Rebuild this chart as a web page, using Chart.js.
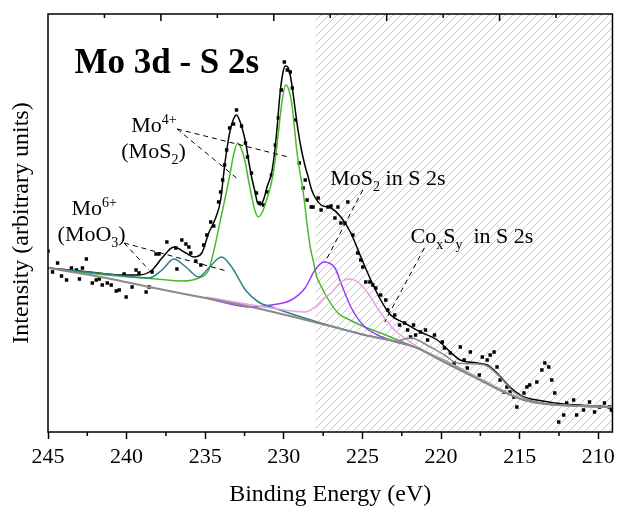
<!DOCTYPE html>
<html><head><meta charset="utf-8">
<script src="https://cdn.jsdelivr.net/npm/chart.js@4.4.1/dist/chart.umd.min.js"></script>
<style>html,body{margin:0;padding:0;background:#fff;}#wrap{width:620px;height:507px;}</style>
</head><body><div id="wrap"><canvas id="c" width="620" height="507"></canvas></div>
<script>
const FONT = "'Liberation Serif','Times New Roman',serif";
// axis
const xMajorTicks = [245,240,235,230,225,220,215,210];
const xMinorTicks = [242.5,237.5,232.5,227.5,222.5,217.5,212.5];
const topTicks = [1,2,3,4,5,6,7,8,9];
const hatchFrom = 228;
// measured points [binding energy, intensity]
const measured = [[245.0,181],[244.71,160],[244.39,169],[244.14,156],[243.82,152],[243.51,164],[243.19,162],[243.0,153],[242.81,164],[242.56,173],[242.18,149],[241.93,152],[241.74,153],[241.55,147],[241.23,149],[240.98,147],[240.66,141],[240.47,142],[240.16,158],[240.03,135],[239.65,145],[239.40,162],[239.21,159],[238.76,140],[238.57,145],[238.38,160],[238.13,178],[237.94,178],[237.44,190],[236.87,184],[236.80,163],[236.49,192],[236.23,188],[236.04,185],[235.92,179],[235.60,171],[235.28,167],[235.10,187],[234.90,197],[234.65,210],[234.46,206],[234.15,230],[234.02,240],[233.89,252],[233.77,267],[233.64,282],[233.45,304],[233.20,308],[233.01,322],[232.69,306],[232.44,289],[232.31,275],[232.06,259],[231.74,239],[231.55,229],[231.30,227],[231.05,240],[230.79,257],[230.54,287],[230.35,314],[230.16,342],[229.97,370],[229.78,362],[229.59,360],[229.46,344],[229.27,312],[229.02,269],[228.77,244],[228.64,252],[228.52,232],[228.26,225],[228.14,225],[227.82,234],[227.63,222],[227.19,225],[227.00,226],[226.75,214],[226.56,225],[226.37,209],[226.12,209],[225.93,230],[225.61,197],[225.30,179],[225.11,172],[224.98,165],[224.79,150],[224.53,150],[224.34,147],[224.15,144],[223.84,137],[223.52,132],[223.39,122],[222.95,117],[222.64,107],[222.32,109],[222.13,102],[221.94,95],[221.75,107],[221.62,97],[221.31,100],[220.99,102],[220.86,92],[220.42,97],[219.92,90],[219.79,84],[219.41,79],[219.16,69],[218.78,85],[218.53,72],[218.33,64],[218.14,80],[217.57,57],[217.38,75],[217.07,72],[216.88,77],[216.63,80],[216.44,65],[216.25,52],[216.00,40],[215.81,45],[215.62,40],[215.37,35],[215.18,25],[214.73,39],[214.54,45],[214.36,47],[213.91,50],[213.59,62],[213.40,69],[213.15,65],[212.96,52],[212.77,39],[212.52,10],[212.20,17],[212.01,29],[211.57,32],[211.38,17],[210.94,22],[210.56,30],[210.24,20],[209.92,25],[209.61,29],[209.30,25],[209.17,22]];
// envelope (total fit)
const envelope = [[245.0,164],[242.37,160],[240.28,157],[239.21,157],[238.38,162],[237.75,174],[236.99,185],[236.23,179],[235.73,175],[235.22,179],[234.78,199],[234.34,214],[234.02,232],[233.85,255],[233.72,272],[233.55,290],[233.41,302],[233.2,313],[233.01,317],[232.8,311],[232.57,299],[232.4,287],[232.25,272],[232.05,255],[231.83,240],[231.67,229],[231.5,227],[231.3,232],[231.05,246],[230.78,259],[230.6,278],[230.46,299],[230.24,339],[230.05,360],[229.91,366],[229.75,365],[229.61,358],[229.45,343],[229.30,325],[229.1,302],[228.88,282],[228.65,266],[228.45,255],[228.25,243],[228.03,235],[227.63,227],[227.00,224],[226.37,215],[225.74,199],[225.10,175],[224.47,152],[223.84,132],[223.21,117],[222.32,109],[221.31,100],[220.24,92],[219.41,80],[218.78,72],[217.71,69],[217.07,67],[216.44,59],[215.62,45],[214.73,35],[213.91,32],[212.20,28],[210.11,26],[209.04,25]];
// Mo4+ (MoS2) doublet
const mo4 = [[245.0,164],[241.29,157],[238.13,153],[236.49,151],[235.41,154],[234.78,162],[234.55,175],[234.34,189],[234.15,203],[234.02,213],[233.72,235],[233.41,259],[233.2,277],[232.94,289],[232.75,285],[232.46,270],[232.25,252],[232.04,235],[231.85,222],[231.62,215],[231.4,219],[231.2,227],[230.98,238],[230.78,250],[230.55,272],[230.35,299],[230.12,330],[229.88,347],[229.7,343],[229.51,330],[229.35,308],[229.19,283],[229.0,262],[228.77,240],[228.5,205],[228.3,183],[228.14,172],[227.9,155],[227.6,145],[227.38,138],[226.56,119],[225.93,113],[224.85,105],[223.84,99],[222.77,92],[219.96,73],[217.22,51],[214.73,32],[211.18,26],[209.04,25]];
// Mo6+ (MoO3) doublet
const mo6 = [[245.0,164],[241.29,158],[238.57,154],[237.75,162],[236.99,173],[236.23,165],[235.41,155],[234.78,164],[233.96,175],[233.32,165],[232.44,142],[231.62,130],[230.79,125],[229.09,116],[226.56,104],[224.85,97],[222.77,90],[221.50,84],[220.04,72],[218.53,60],[217.26,50],[216.00,40],[214.73,32],[213.28,28],[211.19,26],[209.04,25]];
// MoS2 in S 2s
const mos2S2s = [[234.97,134],[232.06,125],[230.79,127],[229.53,132],[228.65,144],[228.02,162],[227.45,170],[226.75,164],[226.37,149],[225.74,125],[224.85,105],[224.03,97],[223.08,91],[221.50,84],[220.04,72],[218.53,60],[217.26,50],[216.00,40],[214.73,32],[213.28,28],[211.19,26],[209.04,25]];
// CoxSy in S 2s
const coxsyS2s = [[234.97,135],[230.79,124],[228.65,120],[228.02,125],[227.38,135],[227.00,139],[226.37,150],[225.80,153],[225.30,150],[224.66,139],[223.84,119],[222.96,102],[222.14,92],[221.50,85],[220.04,73],[218.53,61],[217.26,51],[216.00,41],[214.73,33],[213.28,28],[211.19,26],[209.04,25]];
// additional component
const extra = [[222.77,91],[221.94,94],[220.68,85],[219.79,77],[218.97,69],[217.71,68],[217.07,66],[216.25,55],[215.37,40],[214.36,32],[213.28,28],[211.19,26],[209.04,25]];
// background
const background = [[245.0,164],[241.29,154],[238.57,145],[234.97,134],[232.06,125],[229.09,114],[226.56,104],[224.85,97],[222.77,90],[221.50,84],[220.04,72],[218.53,60],[217.26,50],[216.00,40],[214.73,32],[213.28,28],[211.19,26],[209.04,25]];

const pts = a => a.map(([x,y]) => ({x,y}));
const line = (data,color,w) => ({data:pts(data),showLine:true,borderColor:color,borderWidth:w,pointRadius:0,fill:false,cubicInterpolationMode:'monotone'});

// annotations in data coordinates
const labels = [
  {at:[243.32,359], size:35, bold:true, parts:[{t:'Mo 3d - S 2s'}]},
  {at:[239.71,300], size:22, parts:[{t:'Mo'},{t:'4+',s:'sup'}]},
  {at:[240.34,274], size:22, parts:[{t:'(MoS'},{t:'2',s:'sub'},{t:')'}]},
  {at:[243.51,217], size:22, parts:[{t:'Mo'},{t:'6+',s:'sup'}]},
  {at:[244.39,191], size:22, parts:[{t:'(MoO'},{t:'3',s:'sub'},{t:')'}]},
  {at:[227.05,247], size:22, parts:[{t:'MoS'},{t:'2',s:'sub'},{t:' in S 2s'}]},
  {at:[221.94,189], size:22, parts:[{t:'Co'},{t:'x',s:'sub'},{t:'S'},{t:'y',s:'sub'},{t:'  in S 2s'}]}
];
const leaders = [
  [[236.79,303],[229.71,275]],
  [[236.79,303],[233.01,254]],
  [[240.16,189],[233.64,161]],
  [[240.16,189],[238.57,162]],
  [[224.98,242],[227.38,170]],
  [[221.06,184],[223.59,110]]
];

function hatch(ctx){
  const c=document.createElement('canvas'); c.width=8; c.height=8;
  const g=c.getContext('2d'); g.strokeStyle='#c6c6c6'; g.lineWidth=1;
  g.beginPath(); g.moveTo(0,8); g.lineTo(8,0); g.moveTo(-2,2); g.lineTo(2,-2); g.moveTo(6,10); g.lineTo(10,6); g.stroke();
  return ctx.createPattern(c,'repeat');
}
function rich(ctx,x,y,parts,size,bold){
  let cx=x;
  for(const p of parts){
    const s=p.s?Math.round(size*0.64):size;
    ctx.font=(bold?'bold ':'')+s+'px '+FONT;
    const dy=p.s==='sup'?-size*0.36:p.s==='sub'?size*0.26:0;
    ctx.fillText(p.t,cx,y+dy);
    cx+=ctx.measureText(p.t).width;
  }
}
const decor={
  id:'decor',
  beforeDatasetsDraw(chart){
    const {ctx,chartArea:a,scales:{x}}=chart;
    const x0=x.getPixelForValue(hatchFrom);
    ctx.save(); ctx.fillStyle=hatch(ctx); ctx.fillRect(x0,a.top,a.right-x0,a.bottom-a.top); ctx.restore();
  },
  afterDatasetsDraw(chart){
    const {ctx,scales:{x,y}}=chart;
    ctx.save(); ctx.strokeStyle='#000'; ctx.lineWidth=1; ctx.setLineDash([5,4]);
    for(const [p,q] of leaders){
      ctx.beginPath(); ctx.moveTo(x.getPixelForValue(p[0]),y.getPixelForValue(p[1]));
      ctx.lineTo(x.getPixelForValue(q[0]),y.getPixelForValue(q[1])); ctx.stroke();
    }
    ctx.restore();
  },
  afterDraw(chart){
    const {ctx,chartArea:a,scales:{x,y,xTop}}=chart;
    ctx.save();
    ctx.strokeStyle='#000'; ctx.lineWidth=1.5;
    ctx.strokeRect(a.left,a.top,a.right-a.left,a.bottom-a.top);
    ctx.beginPath();
    for(const v of xMinorTicks){const px=x.getPixelForValue(v); ctx.moveTo(px,a.bottom); ctx.lineTo(px,a.bottom+4);}
    for(const v of topTicks){const px=xTop.getPixelForValue(v); ctx.moveTo(px,a.top); ctx.lineTo(px,a.top+(v%2===0?7:4));}
    ctx.stroke();
    ctx.fillStyle='#000'; ctx.textBaseline='alphabetic'; ctx.textAlign='left';
    for(const l of labels){ rich(ctx,x.getPixelForValue(l.at[0]),y.getPixelForValue(l.at[1]),l.parts,l.size,l.bold); }
    ctx.restore();
  }
};

new Chart(document.getElementById('c'),{
  type:'scatter',
  data:{datasets:[
    line(background,'#8a8a8a',2),
    line(extra,'#8a8a8a',1.5),
    line(coxsyS2s,'#e9a3e6',1.5),
    line(mos2S2s,'#9b3cff',1.5),
    line(mo6,'#2c8088',1.5),
    line(mo4,'#4cb82e',1.5),
    line(envelope,'#000',1.5),
    {data:pts(measured),showLine:false,pointStyle:'rect',pointRadius:2.4,backgroundColor:'#000',borderWidth:0}
  ]},
  plugins:[decor],
  options:{
    responsive:false, animation:false, devicePixelRatio:1,
    layout:{padding:{top:14,right:4,left:0,bottom:0}},
    plugins:{legend:{display:false},tooltip:{enabled:false}},
    scales:{
      x:{type:'linear',position:'bottom',reverse:true,min:209.1,max:245,
        afterBuildTicks(s){s.ticks=xMajorTicks.map(v=>({value:v}));},
        ticks:{font:{family:FONT,size:22},color:'#000',padding:5,maxRotation:0,autoSkip:false},
        grid:{drawOnChartArea:false,drawTicks:true,tickLength:7,tickColor:'#000',tickWidth:1.5,color:'#000'},
        border:{display:false},
        title:{display:true,text:'Binding Energy (eV)',color:'#000',font:{family:FONT,size:24,lineHeight:1},padding:{top:0,bottom:0}},
        afterFit(s){s.height=75;}
      },
      xTop:{type:'linear',position:'top',min:0,max:10,display:false},
      y:{min:0,max:418,
        ticks:{display:false},grid:{display:false},border:{display:false},
        title:{display:true,text:'Intensity (arbitrary units)',color:'#000',font:{family:FONT,size:24,lineHeight:1},padding:{top:10,bottom:0}},
        afterFit(s){s.width=48;}
      }
    }
  }
});
</script></body></html>
